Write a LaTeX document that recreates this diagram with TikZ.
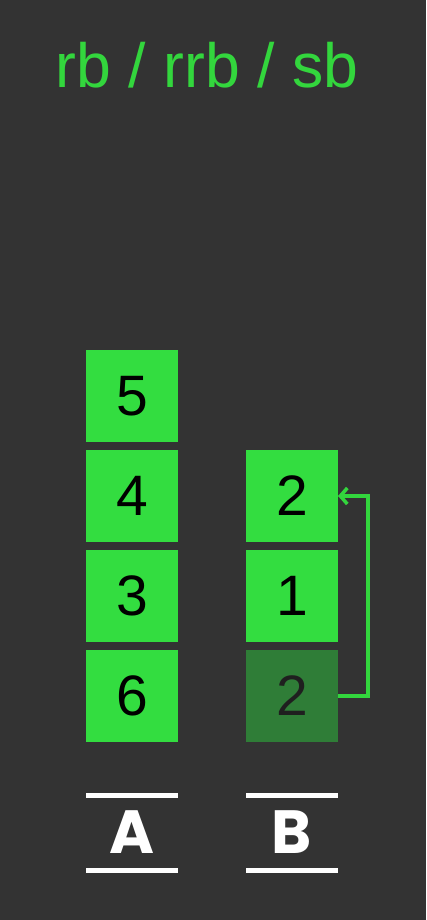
\documentclass[tikz,border=0pt]{standalone}
\usepackage{fontspec}
\setmainfont{Liberation Sans}
\newfontfamily\labelfont{Poppins}
\usetikzlibrary{positioning,arrows.meta}
\definecolor{bg}{RGB}{51,51,51}
\definecolor{cellgreen}{RGB}{51,221,64}
\definecolor{celldim}{RGB}{47,125,55}
\definecolor{titlegreen}{RGB}{51,214,61}
\begin{document}
\begin{tikzpicture}[x=1pt, y=-1pt,
    cell/.style={draw=none, fill=cellgreen, minimum size=92pt, inner sep=0pt, outer sep=0pt, text=black, font=\fontsize{57}{60}\selectfont},
    dim/.style={cell, fill=celldim, text=black!88},
    bar/.style={white, line width=5pt},
    stack/.style={text=white, font=\labelfont\bfseries\fontsize{61}{64}\selectfont, anchor=base}]
  \fill[bg] (0,0) rectangle (426,920);
  \useasboundingbox (0,0) rectangle (426,920);

  \node[text=titlegreen, font=\fontsize{62.5}{66}\selectfont, anchor=base] (title) at (207,88) {rb / rrb / sb};

  % stack A
  \node[cell] (a1) at (132,396) {5};
  \node[cell, below=8pt of a1] (a2) {4};
  \node[cell, below=8pt of a2] (a3) {3};
  \node[cell, below=8pt of a3] (a4) {6};

  % stack B
  \node[cell] (b1) at (292,496) {2};
  \node[cell, below=8pt of b1] (b2) {1};
  \node[dim, below=8pt of b2] (b3) {2};

  \draw[titlegreen, line width=3.5pt, -{Straight Barb[length=7pt, width=16pt, line width=3.5pt]}]
    (b3.east) -- ++(30,0) |- (b1.east);

  % labels
  \coordinate (la) at (132,795.5);
  \coordinate (lb) at (292,795.5);
  \draw[bar] ([xshift=-46pt]la) -- ([xshift=46pt]la);
  \draw[bar] ([xshift=-46pt]lb) -- ([xshift=46pt]lb);
  \node[stack] (sa) at (132,853) {A};
  \node[stack] (sb) at (292,853) {B};
  \draw[bar] ([xshift=-46pt, yshift=-75pt]la) -- ([xshift=46pt, yshift=-75pt]la);
  \draw[bar] ([xshift=-46pt, yshift=-75pt]lb) -- ([xshift=46pt, yshift=-75pt]lb);
\end{tikzpicture}
\end{document}
